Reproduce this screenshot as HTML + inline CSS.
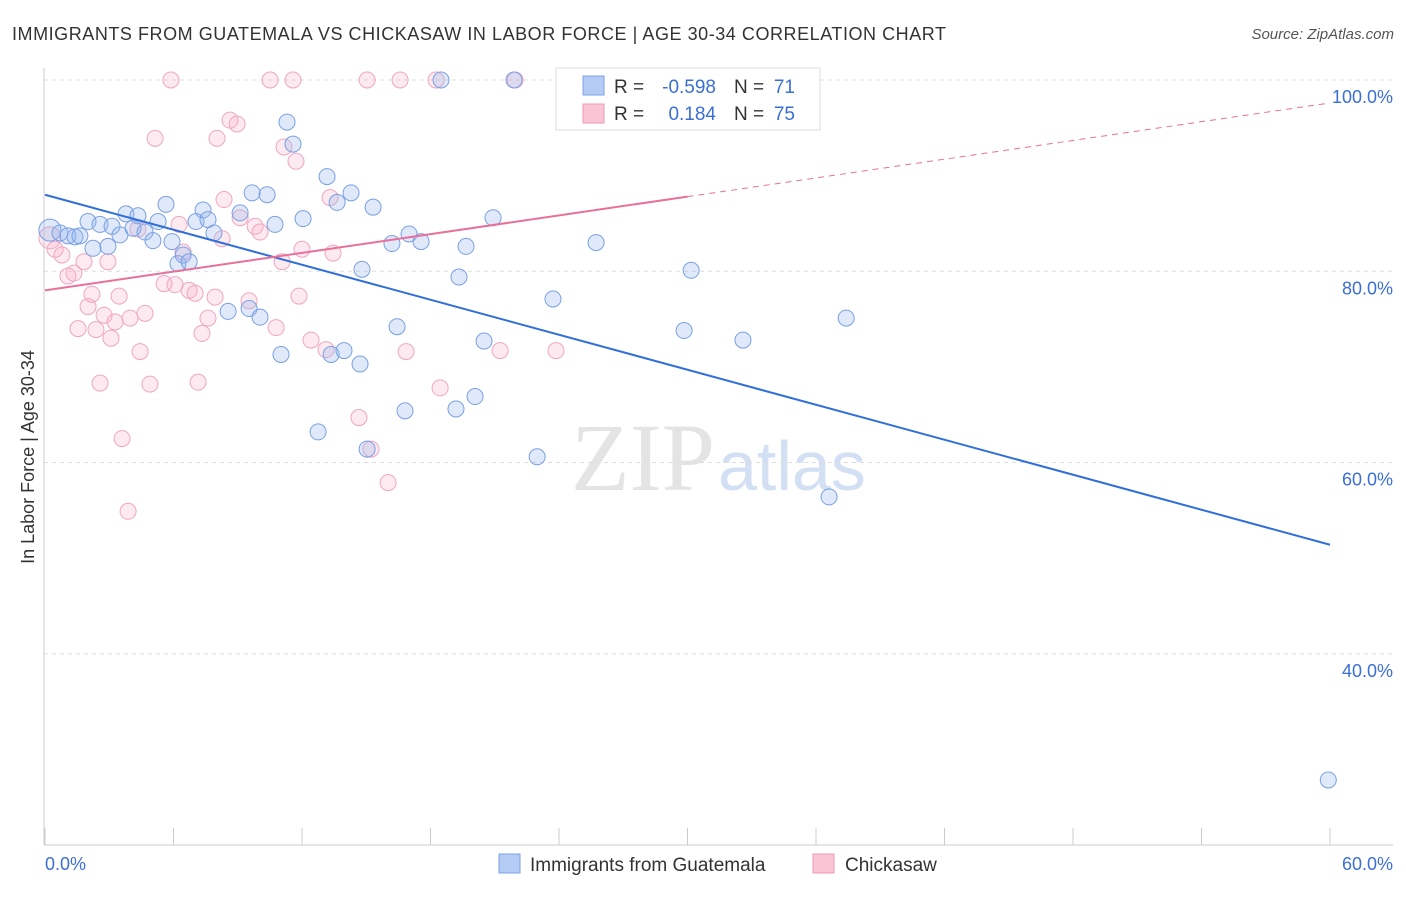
<!DOCTYPE html>
<html><head><meta charset="utf-8"><style>
body{margin:0;background:#fff;font-family:"Liberation Sans",sans-serif;}
svg text{font-family:"Liberation Sans",sans-serif;}
</style></head><body>
<svg id="chart" width="1406" height="892" xmlns="http://www.w3.org/2000/svg">
<text x="12" y="40" font-size="18" fill="#333" textLength="934">IMMIGRANTS FROM GUATEMALA VS CHICKASAW IN LABOR FORCE | AGE 30-34 CORRELATION CHART</text>
<text x="1394" y="39" font-size="15" fill="#555" font-style="italic" text-anchor="end">Source: ZipAtlas.com</text>
<text x="715" y="490" font-size="96" fill="#e4e4e4" text-anchor="end" style="font-family:'Liberation Serif',serif">ZIP</text>
<text x="718" y="490" font-size="70" fill="#d3e0f4">atlas</text>
<text transform="translate(34,457) rotate(-90)" font-size="18" fill="#333" text-anchor="middle">In Labor Force | Age 30-34</text>
<g id="grid"></g><g id="ticks"></g><g id="pts"></g><g id="lines"></g>
<g>
<rect x="556" y="68" width="264" height="62" fill="#fff" stroke="#ddd"/>
<rect x="583" y="76" width="21" height="19" fill="#b4cbf3" stroke="#7fa3e6"/>
<rect x="583" y="104" width="21" height="19" fill="#f9c4d4" stroke="#ee9ab6"/>
<text x="614" y="93" font-size="19" fill="#333">R =</text>
<text x="716" y="93" font-size="19" fill="#3b6fd6" text-anchor="end">-0.598</text>
<text x="734" y="93" font-size="19" fill="#333">N =</text>
<text x="795" y="93" font-size="19" fill="#3b6fd6" text-anchor="end">71</text>
<text x="614" y="120" font-size="19" fill="#333">R =</text>
<text x="716" y="120" font-size="19" fill="#3b6fd6" text-anchor="end">0.184</text>
<text x="734" y="120" font-size="19" fill="#333">N =</text>
<text x="795" y="120" font-size="19" fill="#3b6fd6" text-anchor="end">75</text>
</g>
<g>
<rect x="499" y="854" width="21" height="19" fill="#b4cbf3" stroke="#7fa3e6"/>
<text x="530" y="871" font-size="19" fill="#333">Immigrants from Guatemala</text>
<rect x="813" y="854" width="21" height="19" fill="#f9c4d4" stroke="#ee9ab6"/>
<text x="845" y="871" font-size="19" fill="#333">Chickasaw</text>
</g>
<text x="45" y="870" font-size="18" fill="#3b6fd6">0.0%</text>
<text x="1393" y="870" font-size="18" fill="#3b6fd6" text-anchor="end">60.0%</text>
</svg>
<script>
const blueX=[0.23,0.70,1.07,1.40,1.63,2.01,2.24,2.57,2.94,3.13,3.50,3.78,4.11,4.34,4.67,5.04,5.28,5.65,5.93,6.21,6.45,6.73,7.05,7.38,7.61,7.89,8.55,9.11,9.67,9.53,10.04,10.37,10.74,11.02,11.30,11.58,12.05,12.75,13.17,13.36,13.64,13.96,14.29,14.71,14.80,15.04,15.32,16.20,16.44,16.81,17.00,17.56,18.49,19.19,19.33,19.66,20.08,20.50,20.92,21.90,22.98,23.72,25.73,29.84,30.17,32.59,36.61,37.41,59.92];
const blueY=[84.3,84.0,83.7,83.6,83.7,85.2,82.4,84.9,82.6,84.7,83.8,86.0,84.5,85.8,84.1,83.2,85.2,87.0,83.1,80.8,81.7,81.0,85.2,86.4,85.4,84.0,75.8,86.1,88.2,76.1,75.2,88.0,84.9,71.3,95.6,93.3,85.5,63.2,89.9,71.3,87.2,71.7,88.2,70.3,80.2,61.4,86.7,82.9,74.2,65.4,83.9,83.1,100,65.6,79.4,82.6,66.9,72.7,85.6,100,60.6,77.1,83.0,73.8,80.1,72.8,56.4,75.1,26.8];
const pinkX=[0.23,0.47,0.79,1.07,1.35,1.54,1.82,2.01,2.19,2.38,2.57,2.76,2.94,3.08,3.27,3.46,3.60,3.88,3.97,4.34,4.44,4.67,4.90,5.14,5.56,5.88,6.07,6.26,6.45,6.73,7.01,7.15,7.33,7.61,7.94,8.03,8.27,8.36,8.64,8.97,9.11,9.53,9.81,10.04,10.51,10.79,11.07,11.16,11.58,11.72,11.86,12.00,12.42,13.12,13.31,13.45,14.66,15.04,15.22,16.02,16.58,16.86,18.26,18.45,21.25,21.95,23.86];
const pinkY=[83.5,82.3,81.7,79.5,79.8,74.0,81.0,76.3,77.6,73.9,68.3,75.4,81.0,73.0,74.7,77.4,62.5,54.9,75.1,84.4,71.6,75.6,68.2,93.9,78.7,100,78.6,84.9,82.0,78.0,77.7,68.4,73.5,75.1,77.3,93.9,83.4,87.5,95.8,95.4,85.6,76.9,84.7,84.1,100,74.1,81.0,93.0,100,91.5,77.4,82.3,72.8,71.8,87.7,81.9,64.7,100,61.4,57.9,100,71.6,100,67.8,71.7,100,71.7];
const blueTrend=[88.0,51.4];   // value at x=0 and x=60
const pinkTrend=[78.0,97.6];
const pinkSolidEnd=30;
const yTicks=[100,80,60,40];
const xTicks=[0,6,12,18,24,30,36,42,48,54,60];
const NS='http://www.w3.org/2000/svg';
const sx=v=>45+v*(1285/60);
const sy=v=>845-(v-20)*9.5625;
function el(t,a,p){const e=document.createElementNS(NS,t);for(const k in a)e.setAttribute(k,a[k]);p.appendChild(e);return e;}
const grid=document.getElementById('grid'),ticks=document.getElementById('ticks'),pts=document.getElementById('pts'),lines=document.getElementById('lines');
const ya=el('line',{x1:44,y1:68,x2:44,y2:845,stroke:'#ccc'},ticks);


const xa=el('line',{x1:44,y1:845,x2:1393,y2:845,stroke:'#ccc'},ticks);


yTicks.forEach(v=>{
 const g=el('line',{x1:44,x2:1393,y1:sy(v),y2:sy(v),stroke:'#ddd','stroke-dasharray':'4,4'},grid);
 
 
 const t=el('text',{x:1393,y:sy(v)+23,'font-size':18,fill:'#3b6fd6','text-anchor':'end'},grid);
 t.textContent=v.toFixed(1)+'%';
 
 
});
xTicks.forEach(v=>{
 const l=el('line',{x1:sx(v),x2:sx(v),y1:828,y2:845,stroke:'#ccc'},ticks);
 
 
});
function dots(X,Y,fill,stroke,name){
 X.forEach((x,i)=>{
  const c=el('circle',{cx:sx(x),cy:sy(Y[i]),r:(i===0?11:8),fill:fill,stroke:stroke,'stroke-width':1},pts);
  
  
 });
}
dots(pinkX,pinkY,'rgba(246,170,198,0.25)','#f0a6c0','chickasaw-point');
dots(blueX,blueY,'rgba(150,182,240,0.3)','#7aa0e4','guatemala-point');
const bl=el('line',{x1:sx(0),y1:sy(blueTrend[0]),x2:sx(60),y2:sy(blueTrend[1]),stroke:'#2f6fd9','stroke-width':2},lines);


const pv=x=>pinkTrend[0]+(pinkTrend[1]-pinkTrend[0])*x/60;
const pl=el('line',{x1:sx(0),y1:sy(pv(0)),x2:sx(pinkSolidEnd),y2:sy(pv(pinkSolidEnd)),stroke:'#e8709a','stroke-width':2},lines);


const pd=el('line',{x1:sx(pinkSolidEnd),y1:sy(pv(pinkSolidEnd)),x2:sx(60),y2:sy(pv(60)),stroke:'#e8709a','stroke-width':1,'stroke-dasharray':'6,5'},lines);


</script>
</body></html>
